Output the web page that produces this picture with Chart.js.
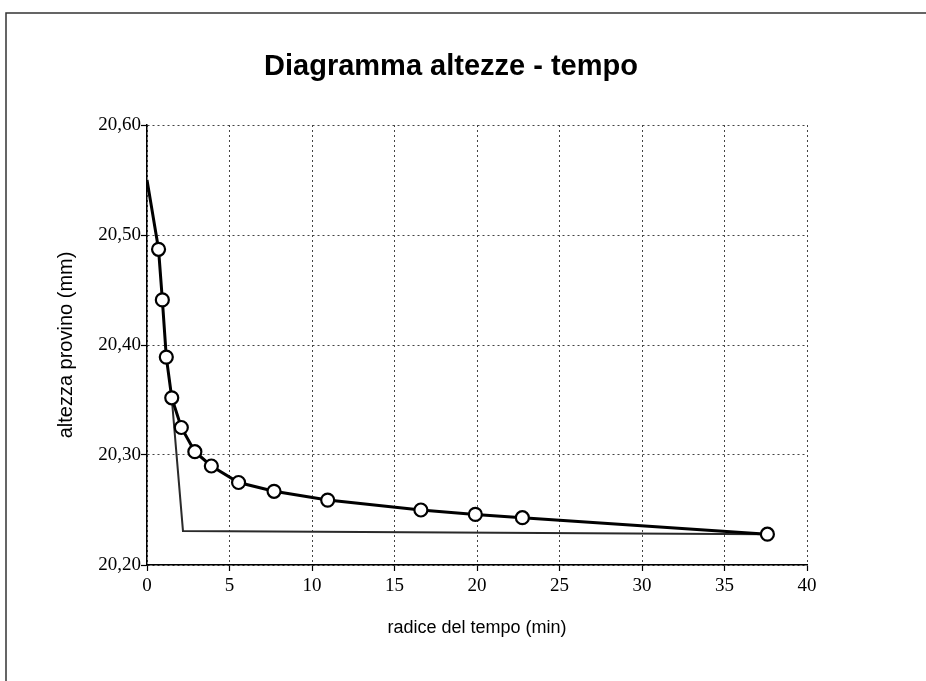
<!DOCTYPE html>
<html><head><meta charset="utf-8">
<script src="https://cdn.jsdelivr.net/npm/chart.js@4/dist/chart.umd.min.js"></script>
<style>html,body{margin:0;padding:0;background:#fff}#wrap{width:926px;height:681px;position:relative}</style>
</head><body><div id="wrap"><canvas id="c" width="926" height="681"></canvas></div>
<script>
// ---- data ----
const rootTime = [0, 0.70, 0.93, 1.17, 1.50, 2.08, 2.90, 3.90, 5.55, 7.70, 10.95, 16.60, 19.90, 22.75, 37.60];
const heightMm = [20.550, 20.487, 20.441, 20.389, 20.352, 20.325, 20.303, 20.290, 20.275, 20.267, 20.259, 20.250, 20.246, 20.243, 20.228];
const constrX = [1.50, 2.18, 37.60];
const constrY = [20.352, 20.231, 20.228];
const xTickLabels = ['0','5','10','15','20','25','30','35','40'];
const yTickLabels = ['20,20','20,30','20,40','20,50','20,60'];
const chartTitle = 'Diagramma altezze - tempo';
const xTitle = 'radice del tempo (min)';
const yTitle = 'altezza provino (mm)';

const mainPts = rootTime.map((x,i)=>({x, y: heightMm[i]}));
const constrPts = constrX.map((x,i)=>({x, y: constrY[i]}));

const framePlugin = {
  id:'frame',
  beforeDraw(chart){
    const ctx = chart.ctx;
    ctx.save();
    ctx.fillStyle='#fff'; ctx.fillRect(0,0,chart.width,chart.height);
    ctx.strokeStyle='#333'; ctx.lineWidth=1.5;
    ctx.beginPath();
    ctx.moveTo(6,681); ctx.lineTo(6,13); ctx.lineTo(926,13);
    ctx.stroke();
    ctx.restore();
  }
};

const gridDash = (c) => (c && c.type === 'tick') ? [2,3] : [];

new Chart(document.getElementById('c'), {
  type:'scatter',
  data:{datasets:[
    {data: constrPts, showLine:true, borderColor:'#2a2a2a', borderWidth:2, pointRadius:0, tension:0, order:2},
    {data: mainPts, showLine:true, borderColor:'#000', borderWidth:3, tension:0,
     pointRadius: rootTime.map((x,i)=> i===0 ? 0 : 6.5), pointHoverRadius:6.5,
     pointBackgroundColor:'#fff', pointBorderColor:'#000', pointBorderWidth:2.2, order:1}
  ]},
  options:{
    responsive:false, animation:false, devicePixelRatio:1,
    layout:{padding:{left:95, right:119, top:0, bottom:0}},
    plugins:{
      legend:{display:false}, tooltip:{enabled:false},
      title:{display:true, text:chartTitle, color:'#000',
        font:{family:'"Liberation Sans", Arial, sans-serif', size:29, weight:'bold', lineHeight:1.2},
        padding:{top:50, bottom:40.2}}
    },
    scales:{
      x:{type:'linear', min:0, max:40,
        ticks:{stepSize:5, color:'#000', padding:4,
          font:{family:'"Liberation Serif", "Times New Roman", serif', size:19},
          callback:(v,i)=> xTickLabels[i]},
        grid:{color:'#444', lineWidth:1, tickLength:6, tickBorderDash:[], tickColor:'#000', tickWidth:1.2},
        border:{display:true, color:'#000', width:1.5, dash:gridDash},
        title:{display:true, text:xTitle, color:'#000',
          font:{family:'"Liberation Sans", Arial, sans-serif', size:18}, padding:{top:0,bottom:42.2}},
        afterFit:(s)=>{ s.height = 116; }
      },
      y:{type:'linear', min:20.2, max:20.6,
        ticks:{stepSize:0.1, color:'#000', padding:0,
          font:{family:'"Liberation Serif", "Times New Roman", serif', size:19},
          callback:(v,i)=> yTickLabels[i]},
        grid:{color:'#444', lineWidth:1, tickLength:6, tickBorderDash:[], tickColor:'#000', tickWidth:1.2},
        border:{display:true, color:'#000', width:1.5, dash:gridDash},
        title:{display:true, text:yTitle, color:'#000',
          font:{family:'"Liberation Sans", Arial, sans-serif', size:20}, padding:{top:-41,bottom:0}},
        afterFit:(s)=>{ s.width = 52; }
      }
    }
  },
  plugins:[framePlugin]
});
</script></body></html>
